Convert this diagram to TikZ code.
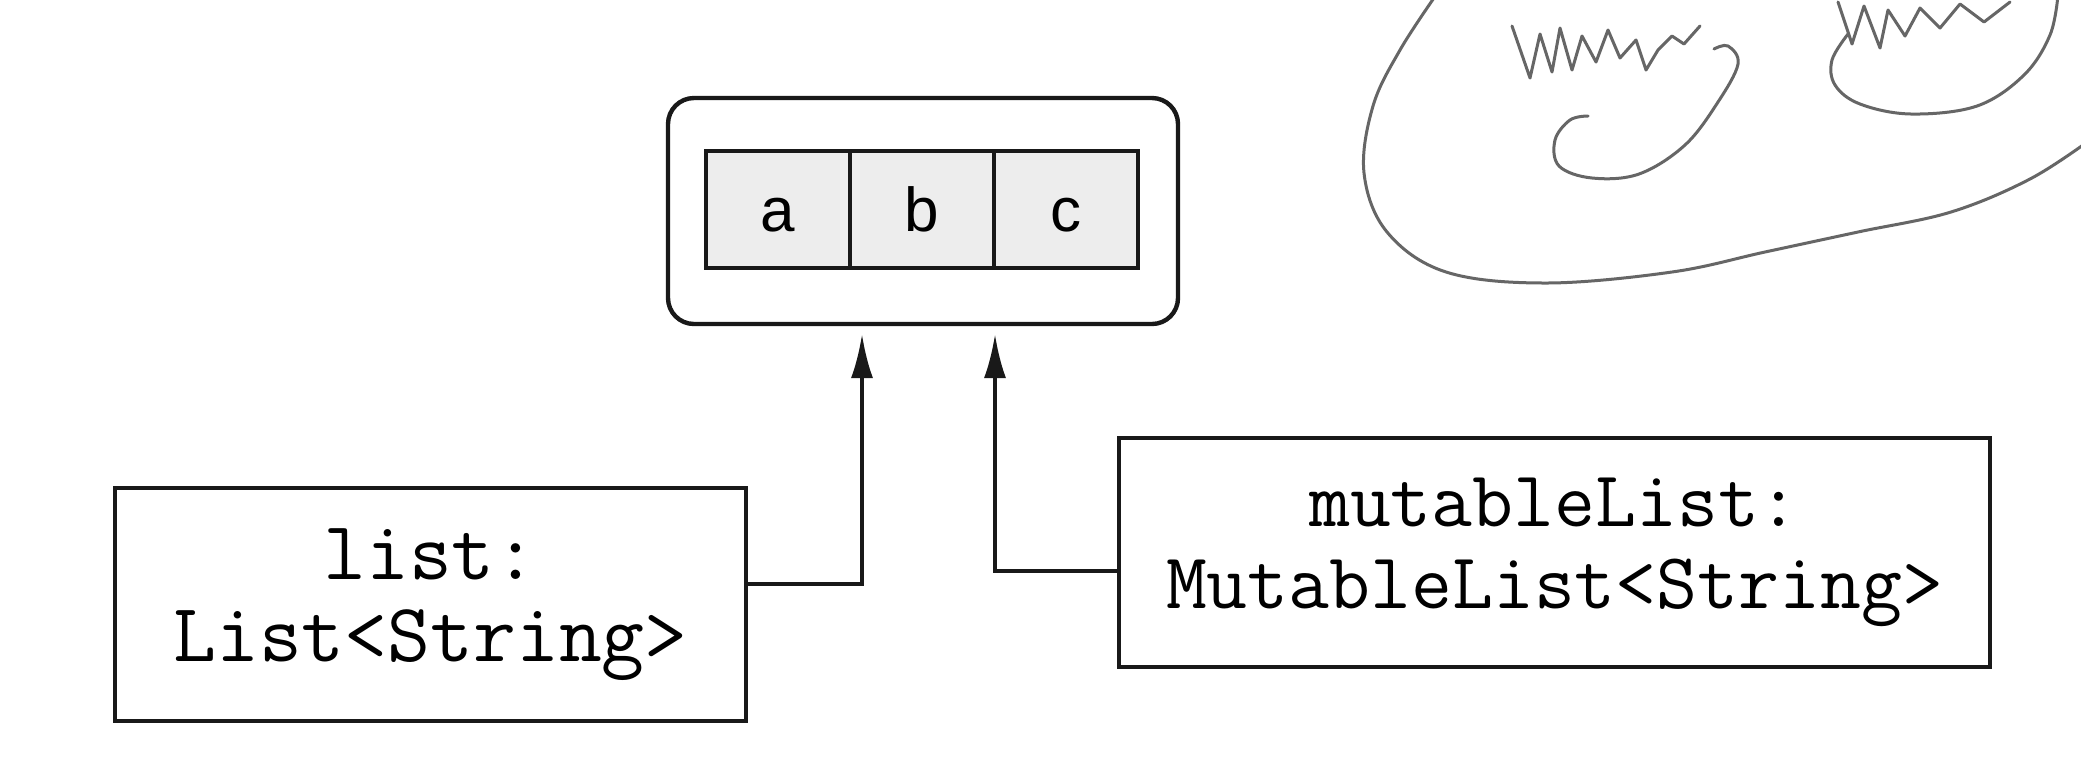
\documentclass[tikz,border=0pt]{standalone}
\usepackage{fontspec}
\usetikzlibrary{arrows.meta}
\newfontfamily\sansfnt{Liberation Sans}
\tikzset{
  box/.style={draw=black!90, line width=2.2pt, rectangle, inner sep=0pt, outer sep=0pt},
  cell/.style={box, fill=black!7, minimum width=72pt, minimum height=58.5pt, text height=22pt, text depth=0pt, font=\sansfnt\fontsize{31}{31}\selectfont},
  holder/.style={box, rounded corners=13pt, minimum width=255pt, minimum height=113pt},
  varbox/.style={box, align=center, fill=white},
  arr/.style={draw=black!90, line width=1.9pt, -{Latex[length=22pt,width=11pt]}},
  pencil/.style={draw=black!60, line width=1.5pt, line cap=round, line join=round}
}
\begin{document}
\begin{tikzpicture}[x=0.5pt,y=-0.5pt]
\useasboundingbox[fill=white] (0,0) rectangle (2081,757);
% container and cells
\node[holder] (outer) at (923,211) {};
\node[cell] (ca) at (778,209.5) {a};
\node[cell] (cb) at (922,209.5) {b};
\node[cell] (cc) at (1066,209.5) {c};
% variable boxes
\node[varbox, minimum width=315.5pt, minimum height=116.5pt,
      font=\ttfamily\fontsize{41.6}{41}\selectfont] (list) at (430.5,604.5)
      {list:\\List<String>};
\node[varbox, minimum width=435.5pt, minimum height=114.5pt,
      font=\ttfamily\fontsize{39.7}{41}\selectfont] (mut) at (1554.5,552.5)
      {mutableList:\\MutableList<String>};
% references
\draw[arr] ([yshift=10.25pt]list.east) -| ([xshift=-30.5pt,yshift=-5pt]outer.south);
\draw[arr] ([yshift=-9.25pt]mut.west) -| ([xshift=36pt,yshift=-5pt]outer.south);
% pencil doodle
\begin{scope}
\clip (0,0) rectangle (2081,757);
\draw[pencil] plot[smooth, tension=0.6] coordinates {(1436,-5) (1400,50) (1373,106) (1364,173) (1387,232) (1446,272) (1546,283) (1672,272) (1765,252) (1858,232) (1951,212) (2030,179) (2090,140)};
\draw[pencil] plot[smooth, tension=0.6] coordinates {(1588,116) (1570,120) (1555,140) (1559,166) (1592,178) (1639,174) (1685,145) (1718,102) (1738,64) (1728,46) (1714,49)};
\draw[pencil] plot[smooth, tension=0.6] coordinates {(1848,34) (1832,60) (1835,85) (1860,104) (1911,114) (1977,106) (2024,75) (2050,35) (2058,-5)};
\draw[pencil] (1512,26) -- (1530,78) -- (1540,34) -- (1552,72) -- (1560,28) -- (1572,70) -- (1582,36) -- (1596,62) -- (1608,30) -- (1620,58) -- (1636,40) -- (1646,70) -- (1658,50) -- (1672,36) -- (1684,44) -- (1700,26);
\draw[pencil] (1838,2) -- (1852,44) -- (1864,6) -- (1880,48) -- (1888,10) -- (1905,36) -- (1920,8) -- (1940,28) -- (1960,4) -- (1984,22) -- (2010,2);
\end{scope}
\end{tikzpicture}
\end{document}
